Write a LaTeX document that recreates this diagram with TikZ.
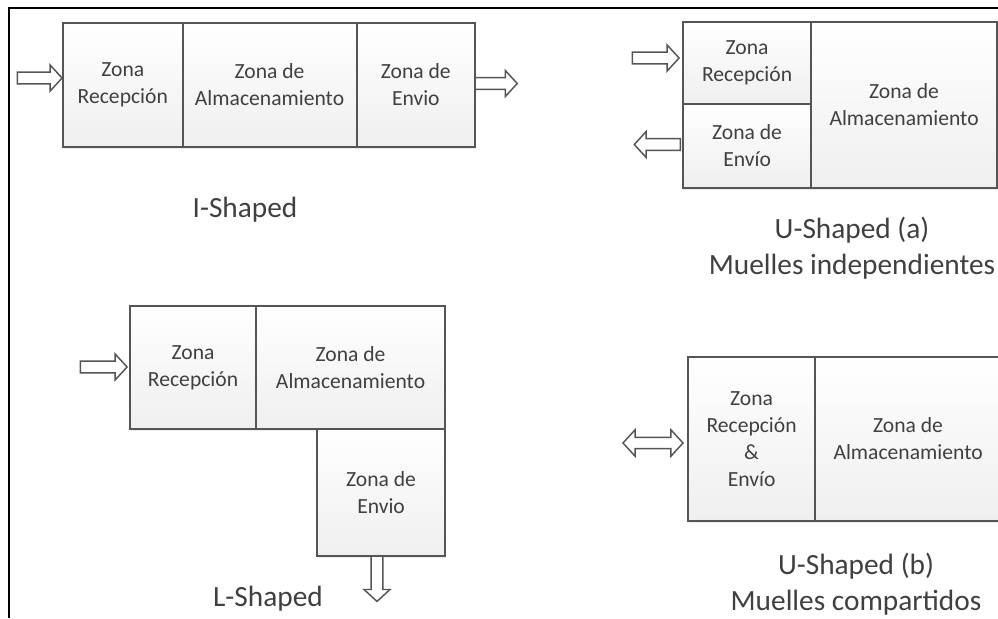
\documentclass[tikz,border=0pt]{standalone}
\usepackage{fontspec}
\setmainfont{Carlito}
\usetikzlibrary{shapes.arrows,shadows}
\definecolor{inktext}{HTML}{404040}
\definecolor{edgegray}{HTML}{555555}
\definecolor{fillbottom}{HTML}{EFEFEF}
\tikzset{
  x=0.75pt,y=-0.75pt,
  zone/.style={draw=edgegray,line width=1.6pt,rectangle,anchor=north west,inner sep=0pt,
    top color=white,bottom color=fillbottom,text=inktext,align=center,
    font=\fontsize{16.2}{20.25}\selectfont,
    drop shadow={opacity=0.15,shadow xshift=0.6pt,shadow yshift=-1.8pt}},
  caption/.style={text=inktext,align=center,inner sep=0pt,
    font=\fontsize{22}{27}\selectfont},
  blockarrow/.style={draw=edgegray,fill=white,line width=1.1pt,inner sep=3.9pt,
    minimum width=19.5pt,single arrow,single arrow head extend=5.3pt,
    single arrow tip angle=95},
  dblarrow/.style={draw=edgegray,fill=white,line width=1.1pt,inner sep=3.6pt,
    minimum width=19.5pt,double arrow,double arrow head extend=5.7pt,
    double arrow tip angle=95}
}
\newcommand{\zonebox}[6]{% name, x1, y1, x2, y2, text
  \node[zone,minimum width={(#4-#2)*0.75pt},minimum height={(#5-#3)*0.75pt}] (#1) at (#2,#3) {#6};}
\begin{document}
\begin{tikzpicture}
\useasboundingbox (0,0) rectangle (998,618);
\clip (0,0) rectangle (998,618);
\fill[white] (0,0) rectangle (998,618);
\coordinate (frameTL) at (9,8);
\coordinate (frameBL) at (9,618);
\coordinate (frameTR) at (998,8);
\draw[black,line width=1.7pt] (frameBL) -- (frameTL) -- (frameTR);

% I-Shaped
\zonebox{iR}{62}{22}{181.5}{146}{Zona\\Recepción}
\zonebox{iA}{181.5}{22}{355.5}{146}{Zona de\\Almacenamiento}
\zonebox{iE}{355.5}{22}{474}{146}{Zona de\\Envio}
\node[blockarrow,minimum height=33.5pt] (iIn) at (37,78) {};
\node[blockarrow,minimum height=31.5pt] (iOut) at (493.5,83.5) {};
\node[caption] (iCap) at (245,210) {I-Shaped};

% U-Shaped (a)
\zonebox{uaA}{810}{20.5}{996}{187}{Zona de\\Almacenamiento}
\zonebox{uaR}{682}{20.5}{810}{103}{Zona\\Recepción}
\zonebox{uaE}{682}{103}{810}{187}{Zona de\\Envío}
\node[blockarrow,minimum height=35pt] (uaIn) at (653,58) {};
\node[blockarrow,minimum height=34.5pt,shape border rotate=180] (uaOut) at (660,144.5) {};
\node[caption,anchor=north] (uaCap) at (852,217) {U-Shaped (a)\\Muelles independientes};

% L-Shaped
\zonebox{lR}{129}{305}{255}{428}{Zona\\Recepción}
\zonebox{lA}{255}{305}{444}{428}{Zona de\\Almacenamiento}
\zonebox{lE}{316}{428}{444}{555}{Zona de\\Envio}
\node[blockarrow,minimum height=35pt] (lIn) at (101,367) {};
\node[blockarrow,minimum height=34pt,shape border rotate=270] (lOut) at (377,576) {};
\node[caption] (lCap) at (268,599) {L-Shaped};

% U-Shaped (b)
\zonebox{ubR}{687}{356}{814}{520}{Zona\\Recepción\\\&\\Envío}
\zonebox{ubA}{814}{356}{1000}{520}{Zona de\\Almacenamiento}
\node[dblarrow,minimum height=45pt] (ubIO) at (653,443) {};
\node[caption,anchor=north] (ubCap) at (856,553) {U-Shaped (b)\\Muelles compartidos};
\end{tikzpicture}
\end{document}
